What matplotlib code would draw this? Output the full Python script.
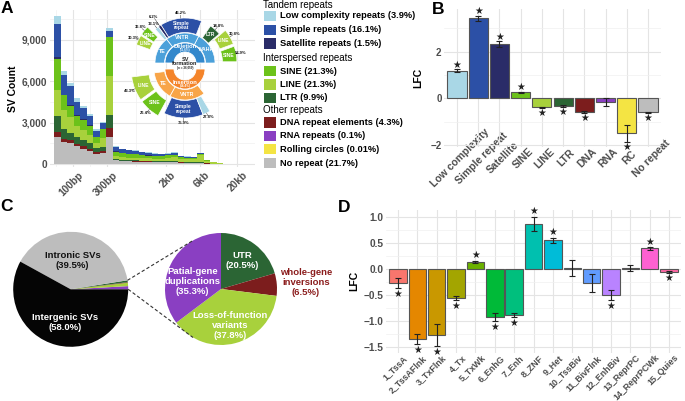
import numpy as np
import matplotlib.pyplot as plt
import matplotlib.transforms as mtransforms
from matplotlib.patches import Wedge, Rectangle
from matplotlib.lines import Line2D

plt.rcParams['font.family'] = ['Liberation Sans', 'DejaVu Sans']

W, H = 685, 401
fig = plt.figure(figsize=(W / 100, H / 100), dpi=100)


def box(l, t, r, b):
    # pixel box (left, top, right, bottom) -> figure rect
    return [l / W, 1 - b / H, (r - l) / W, (b - t) / H]


TICK = '#4d4d4d'
GRID = '#e4e4e4'
GRID_MINOR = '#f0f0f0'

# ---------------- data ----------------
# A: SV size histogram (log10 bp bins), counts per repeat class
rep_labels = ['Low complexity repeats', 'Simple repeats', 'Satellite repeats',
              'SINE', 'LINE', 'LTR',
              'DNA repeat elements', 'RNA repeats', 'Rolling circles', 'No repeat']
rep_pct = ['3.9%', '16.1%', '1.5%', '21.3%', '21.3%', '9.9%', '4.3%', '0.1%', '0.01%', '21.7%']
rep_colors = ['#a9d7e6', '#2c50a6', '#2a2c68', '#6cc21a', '#a8d13c', '#2b6534',
              '#7c1d1d', '#8a3fc2', '#f4e443', '#bdbdbd']
groups = ['Tandem repeats', 'Interspersed repeats', 'Other repeats']

bin_left = np.round(1.74 + 0.091 * np.arange(26), 3)
bin_width = 0.091

cnt_lowc = [530, 340, 190, 240, 170, 145, 100, 120, 240, 60, 50, 50, 45, 40, 40, 35, 30, 30, 60, 25, 20, 20, 20, 10, 5, 0]
cnt_simple = [2420, 1390, 1400, 1000, 810, 685, 440, 395, 410, 330, 270, 250, 230, 200, 170, 150, 130, 120, 120, 80, 70, 60, 40, 20, 10, 5]
cnt_sat = [145, 60, 50, 40, 40, 40, 40, 40, 40, 20, 20, 15, 15, 15, 10, 10, 10, 10, 10, 5, 5, 5, 5, 0, 0, 0]
cnt_sine = [2225, 1050, 770, 725, 725, 650, 390, 650, 2800, 330, 280, 260, 250, 230, 210, 200, 180, 180, 170, 110, 100, 80, 60, 30, 20, 5]
cnt_line = [1935, 1400, 1160, 820, 725, 600, 410, 600, 2830, 200, 180, 180, 180, 170, 170, 170, 180, 240, 300, 230, 220, 210, 550, 180, 105, 30]
cnt_ltr = [1090, 720, 530, 480, 435, 390, 240, 290, 970, 60, 60, 55, 55, 50, 50, 45, 45, 50, 50, 35, 30, 30, 30, 15, 10, 5]
cnt_dna = [410, 170, 190, 145, 190, 145, 170, 190, 605, 50, 40, 40, 35, 35, 30, 30, 25, 25, 25, 20, 20, 15, 15, 10, 5, 0]
cnt_rna = [0] * 26
cnt_rc = [0] * 26
cnt_none = [1940, 1620, 1550, 1300, 1110, 970, 725, 775, 1980, 250, 200, 180, 170, 160, 150, 140, 130, 125, 115, 85, 75, 70, 60, 25, 15, 5]

size_ticks = [100, 300, 2000, 6000, 20000]
size_labels = ['100bp', '300bp', '2kb', '6kb', '20kb']

# A inset: sunburst, shares in % of full circle (None = empty)
sb_ring1 = ['Deletion', 'Insertion']
sb_ring1_pct = ['(55.6%)', '(44.4%)']
sb_del2 = ['NAHR', 'VNTR', 'TE']
sb_del2_share = [17.5, 18.0, 14.5]
sb_del3 = ['SINE', 'LINE', 'LTR', None, 'Simple\nrepeat', 'Satellite', 'Low', None, 'SINE', 'LINE', None]
sb_del3_share = [5.6, 5.6, 4.2, 3.6, 15.0, 1.1, 1.4, 1.1, 3.3, 3.6, 5.5]
sb_del3_pct = ['52.9%', '30.8%', '14.8%', '', '46.2%', '6.2%', '13.1%', '', '36.8%', '30.3%', '']
sb_ins2 = [None, 'TE', 'VNTR', None]
sb_ins2_share = [2, 15, 18.5, 14.5]
sb_ins3 = [None, 'LINE', 'SINE', None, 'Simple\nrepeat', 'Low', None]
sb_ins3_share = [2, 8, 7, 1, 13, 2.5, 16.5]
sb_ins3_pct = ['', '43.3%', '26.4%', '', '75.9%', '27.8%', '']

# B: LFC per repeat class
b_cats = ['Low complexity', 'Simple repeat', 'Satellite', 'SINE', 'LINE', 'LTR',
          'DNA', 'RNA', 'RC', 'No repeat']
b_lfc = [1.19, 3.43, 2.33, 0.26, -0.39, -0.33, -0.60, -0.14, -1.50, -0.60]
b_err = [0.06, 0.10, 0.12, 0.03, 0.03, 0.03, 0.04, 0.17, 0.36, 0.03]
b_sig = [1, 1, 1, 1, 1, 1, 1, 0, 1, 1]

# C: SV location pies
loc_labels = ['Intronic SVs', 'Intergenic SVs']
loc_pct = [39.5, 58.0]
gene_labels = ['UTR', 'whole-gene\ninversions', 'Loss-of-function\nvariants', 'Patial-gene\nduplications']
gene_pct = [20.5, 6.5, 37.8, 35.3]
gene_share = 2.5
gene_colors = ['#2b6534', '#7c1d1d', '#a8d13c', '#8a3fc2']

# D: LFC per chromatin state
d_states = ['1_TssA', '2_TssAFlnk', '3_TxFlnk', '4_Tx', '5_TxWk', '6_EnhG', '7_Enh', '8_ZNF',
            '9_Het', '10_TssBiv', '11_BivFlnk', '12_EnhBiv', '13_ReprPC', '14_ReprPCWk', '15_Quies']
d_lfc = [-0.27, -1.34, -1.27, -0.55, 0.14, -0.92, -0.885, 0.87, 0.55, 0.025, -0.27, -0.50, 0.02, 0.395, -0.05]
d_err = [0.10, 0.095, 0.21, 0.04, 0.02, 0.08, 0.04, 0.135, 0.05, 0.15, 0.165, 0.10, 0.06, 0.03, 0.02]
d_sig = [1, 1, 1, 1, 1, 1, 1, 1, 1, 0, 0, 1, 0, 1, 1]
d_colors = ['#F8766D', '#E58700', '#C99800', '#A3A500', '#6BB100', '#00BA38', '#00BF7D', '#00C0AF',
            '#00BCD8', '#00B0F6', '#619CFF', '#B983FF', '#E76BF3', '#FD61D1', '#FF67A4']


def minimal(ax):
    for s in ax.spines.values():
        s.set_visible(False)
    ax.tick_params(which='both', length=0, pad=2, labelsize=7, labelcolor=TICK)
    ax.grid(True, which='major', color=GRID, lw=0.8)
    ax.grid(True, which='minor', color=GRID_MINOR, lw=0.5)
    ax.set_axisbelow(True)


def bold_ticks(ax):
    for lab in ax.get_xticklabels() + ax.get_yticklabels():
        lab.set_fontweight('bold')


def shift_xlabels(ax, dx_px):
    off = mtransforms.ScaledTranslation(dx_px / 100, 0, fig.dpi_scale_trans)
    for lab in ax.get_xticklabels():
        lab.set_transform(lab.get_transform() + off)


# ---------------- A ----------------
axA = fig.add_axes(box(50, 10, 255, 167.4))
minimal(axA)
counts = [cnt_lowc, cnt_simple, cnt_sat, cnt_sine, cnt_line, cnt_ltr, cnt_dna, cnt_rna, cnt_rc, cnt_none]
bottom = np.zeros(len(bin_left))
for i in reversed(range(len(counts))):
    axA.bar(bin_left, counts[i], width=bin_width, bottom=bottom, align='edge',
            color=rep_colors[i], lw=0)
    bottom += np.array(counts[i])
axA.set_xlim(1.677, 4.553)
axA.set_ylim(-250, 11150)
lt = np.log10(size_ticks)
axA.set_xticks(lt)
axA.set_xticklabels(size_labels, rotation=45, ha='right', rotation_mode='anchor')
axA.set_xticks(list((lt[:-1] + lt[1:]) / 2) + [lt[0] - (lt[1] - lt[0]) / 2], minor=True)
axA.set_yticks([0, 3000, 6000, 9000])
axA.set_yticklabels(['0', '3,000', '6,000', '9,000'])
axA.set_yticks([1500, 4500, 7500, 10500], minor=True)
axA.tick_params(axis='x', pad=2, labelsize=7.3)
axA.tick_params(axis='y', labelsize=7.3)
bold_ticks(axA)
shift_xlabels(axA, 5)
axA.set_ylabel('SV Count', fontsize=7.5, fontweight='bold', labelpad=3)

# inset sunburst
axS = fig.add_axes(box(125, 3, 245, 123))
axS.set_xlim(-60, 60)
axS.set_ylim(-60, 60)
axS.axis('off')
sb_col = {'Deletion': '#3388cc', 'Insertion': '#f4842a', 'del2': '#4ba0da', 'ins2': '#f8a548',
          'SINE': rep_colors[3], 'LINE': rep_colors[4], 'LTR': rep_colors[5],
          'Simple\nrepeat': rep_colors[1], 'Satellite': rep_colors[2], 'Low': rep_colors[0]}
pct_gap = {'Satellite': 11, 'Low': 5}


def ring(names, shares, start, r_in, r_out, center, cols, pcts=None, explode=0,
         exp_names=(), fs=3.6):
    a = start
    for k, (n, s) in enumerate(zip(names, shares)):
        a0, a1 = a, a + s * 3.6
        a = a1
        if n is None:
            continue
        mid = np.deg2rad((a0 + a1) / 2)
        ex = explode if n in exp_names else 0
        cx = center[0] + ex * np.cos(mid)
        cy = center[1] + ex * np.sin(mid)
        axS.add_patch(Wedge((cx, cy), r_out, a0, a1, width=r_out - r_in,
                            facecolor=cols(n), edgecolor='white', lw=0.5))
        rm = (r_in + r_out) / 2
        if n not in ('Satellite', 'Low'):
            axS.text(cx + rm * np.cos(mid), cy + rm * np.sin(mid), n, ha='center', va='center',
                     fontsize=fs, color='white', fontweight='bold', linespacing=0.9)
        if pcts is not None and pcts[k]:
            ro = r_out + pct_gap.get(n, 5)
            axS.plot([cx + r_out * np.cos(mid), cx + (ro - 2) * np.cos(mid)],
                     [cy + r_out * np.sin(mid), cy + (ro - 2) * np.sin(mid)], color='#222222', lw=0.3)
            axS.text(cx + ro * np.cos(mid), cy + ro * np.sin(mid), pcts[k], ha='center', va='center',
                     fontsize=3.0, fontweight='bold', color='#111111')


c_del = (0, 0)
c_ins = (0, -6)
axS.add_patch(Wedge(c_del, 20, 0, 180, width=9, facecolor=sb_col['Deletion'], edgecolor='white', lw=0.6))
axS.add_patch(Wedge(c_ins, 20, 180, 360, width=9, facecolor=sb_col['Insertion'], edgecolor='white', lw=0.6))
axS.text(0, 16, sb_ring1[0], ha='center', va='center', fontsize=4.2, color='white', fontweight='bold')
axS.text(0, 12.5, sb_ring1_pct[0], ha='center', va='center', fontsize=2.2, color='white', fontweight='bold')
axS.text(0, -20, sb_ring1[1], ha='center', va='center', fontsize=4.2, color='white', fontweight='bold')
axS.text(0, -23.5, sb_ring1_pct[1], ha='center', va='center', fontsize=2.2, color='white', fontweight='bold')
axS.text(0, 1.5, 'SV\nformation', ha='center', va='center', fontsize=4.0, fontweight='bold',
         color='#222222', linespacing=0.85)
axS.text(0, -5, '(n = 36,059)', ha='center', va='center', fontsize=2.2, fontweight='bold', color='#222222')
ring(sb_del2, sb_del2_share, 0, 20.5, 30, c_del, lambda n: sb_col['del2'], fs=3.8)
ring(sb_ins2, sb_ins2_share, 180, 20.5, 31, c_ins, lambda n: sb_col['ins2'], fs=3.8)
ring(sb_del3, sb_del3_share, 0, 30.5, 45, c_del, lambda n: sb_col[n], pcts=sb_del3_pct,
     explode=7, exp_names=('SINE', 'LINE'), fs=3.6)
ring(sb_ins3, sb_ins3_share, 180, 31.5, 49, c_ins, lambda n: sb_col[n], pcts=sb_ins3_pct,
     explode=5, exp_names=('SINE', 'LINE'), fs=3.6)

# legend for A
leg_rows = [(groups[0], None), (None, 0), (None, 1), (None, 2),
            (groups[1], None), (None, 3), (None, 4), (None, 5),
            (groups[2], None), (None, 6), (None, 7), (None, 8), (None, 9)]
leg_y = [5, 16, 30, 43.3, 58.3, 71, 84.3, 97.7, 110, 122.5, 136, 149, 163]
for (head, idx), y in zip(leg_rows, leg_y):
    if head is not None:
        fig.text(263 / W, 1 - y / H, head, fontsize=7, va='center', ha='left')
    else:
        fig.add_artist(Rectangle((263.5 / W, 1 - (y + 5.2) / H), 12.5 / W, 10.4 / H,
                                 transform=fig.transFigure, facecolor=rep_colors[idx], lw=0))
        fig.text(279.5 / W, 1 - y / H, f'{rep_labels[idx]} ({rep_pct[idx]})', fontsize=6.7,
                 fontweight='bold', va='center', ha='left')

# ---------------- B ----------------
axB = fig.add_axes(box(444.3, 9, 660.7, 147))
minimal(axB)
xb = np.arange(len(b_cats))
axB.bar(xb, b_lfc, width=0.9, color=rep_colors, edgecolor='#555555', lw=0.8)
axB.errorbar(xb, b_lfc, yerr=b_err, fmt='none', ecolor='#222222', elinewidth=0.8, capsize=2, capthick=0.8)
for x, v, e, s in zip(xb, b_lfc, b_err, b_sig):
    if s:
        y = v + e + 0.2 if v > 0 else v - e - 0.22
        axB.text(x, y, '\u2605', ha='center', va='center', fontsize=7, color='#222222')
axB.set_xlim(-0.6, 9.6)
axB.set_ylim(-2.09, 3.83)
axB.set_xticks(xb)
axB.set_xticklabels(b_cats, rotation=45, ha='center', va='center', rotation_mode='anchor')
axB.set_yticks([-2, 0, 2])
axB.set_yticklabels(['\u22122', '0', '2'])
axB.set_yticks([-1, 1, 3], minor=True)
axB.tick_params(axis='x', pad=8, labelsize=7.5)
bold_ticks(axB)
shift_xlabels(axB, 3)
axB.set_ylabel('LFC', fontsize=7.5, fontweight='bold', labelpad=5)

# ---------------- C ----------------
axC = fig.add_axes(box(0, 200, 340, 401))
cL = (70.7, 401 - 289.3)
cR = (221.0, 401 - 289.0)
left_sizes = [p * gene_share / 100 for p in gene_pct[::-1]] + loc_pct
left_colors = gene_colors[::-1] + ['#bdbdbd', '#050505']
axC.pie(left_sizes, colors=left_colors, startangle=0, counterclock=True, center=cL, radius=57.5,
        wedgeprops=dict(lw=0))
axC.pie(gene_pct, colors=gene_colors, startangle=90, counterclock=False, center=cR, radius=56,
        wedgeprops=dict(lw=0))
axC.set_xlim(0, 340)
axC.set_ylim(0, 201)
axC.set_aspect('equal')
axC.axis('off')
# labels on the left pie
gene_ang = gene_share * 3.6
a_intr = np.deg2rad(gene_ang + loc_pct[0] * 3.6 / 2 + 6)
axC.text(cL[0] + 0.5 * 57.5 * np.cos(a_intr), cL[1] + 0.5 * 57.5 * np.sin(a_intr),
         f'{loc_labels[0]}\n({loc_pct[0]}%)', ha='center', va='center', fontsize=6.8,
         fontweight='bold', color='#111111', linespacing=1.15)
a_inter = np.deg2rad(gene_ang + loc_pct[0] * 3.6 + loc_pct[1] * 3.6 / 2 + 4)
axC.text(cL[0] + 0.58 * 57.5 * np.cos(a_inter), cL[1] + 0.58 * 57.5 * np.sin(a_inter),
         f'{loc_labels[1]}\n({loc_pct[1]}%)', ha='center', va='center', fontsize=6.8,
         fontweight='bold', color='white', linespacing=1.15)
# labels on the right pie
a = 90.0
dist = [0.64, 1.52, 0.67, 0.53]
for k, (lab, p, d) in enumerate(zip(gene_labels, gene_pct, dist)):
    mid = np.deg2rad(a - p * 3.6 / 2)
    a -= p * 3.6
    if k == 3:
        mid = np.deg2rad(166)
    col = '#8b1c1c' if k == 1 else 'white'
    axC.text(cR[0] + d * 56 * np.cos(mid), cR[1] + d * 56 * np.sin(mid), f'{lab}\n({p}%)',
             ha='center', va='center', fontsize=6.8, fontweight='bold', color=col, linespacing=1.15)
# dashed connectors
for aL, aR in [(gene_ang, 120), (0, 240)]:
    p0 = (cL[0] + 57.5 * np.cos(np.deg2rad(aL)), cL[1] + 57.5 * np.sin(np.deg2rad(aL)))
    p1 = (cR[0] + 56 * np.cos(np.deg2rad(aR)), cR[1] + 56 * np.sin(np.deg2rad(aR)))
    axC.add_line(Line2D([p0[0], p1[0]], [p0[1], p1[1]], ls=(0, (3, 2)), color='#333333', lw=0.8))

# ---------------- D ----------------
axD = fig.add_axes(box(386.4, 210, 680.7, 352.5))
minimal(axD)
xd = np.arange(len(d_states))
axD.bar(xd, d_lfc, width=0.9, color=d_colors, edgecolor='#555555', lw=0.8)
axD.errorbar(xd, d_lfc, yerr=d_err, fmt='none', ecolor='#222222', elinewidth=0.8, capsize=2, capthick=0.8)
for x, v, e, s in zip(xd, d_lfc, d_err, d_sig):
    if s:
        y = v + e + 0.1 if v > 0 else v - e - 0.11
        axD.text(x, y, '\u2605', ha='center', va='center', fontsize=7, color='#222222')
axD.set_xlim(-0.6, 14.6)
axD.set_ylim(-1.6, 1.13)
axD.set_xticks(xd)
axD.set_xticklabels(d_states, rotation=45, ha='right', rotation_mode='anchor')
axD.set_yticks([-1.5, -1.0, -0.5, 0.0, 0.5, 1.0])
axD.set_yticklabels(['\u22121.5', '\u22121.0', '\u22120.5', '0.0', '0.5', '1.0'])
axD.set_yticks([-1.25, -0.75, -0.25, 0.25, 0.75], minor=True)
axD.tick_params(axis='x', labelsize=6.4, pad=0.5)
axD.tick_params(axis='y', labelsize=7.3)
bold_ticks(axD)
shift_xlabels(axD, 5)
axD.set_ylabel('LFC', fontsize=7.5, fontweight='bold', labelpad=3)

# panel letters
for lab, x, y in [('A', 1, 1), ('B', 432, 2), ('C', 0, 199), ('D', 338, 200)]:
    fig.text(x / W, 1 - y / H, lab, fontsize=12.5, fontweight='bold', va='top', ha='left')

fig.savefig('out.png', dpi=100)
